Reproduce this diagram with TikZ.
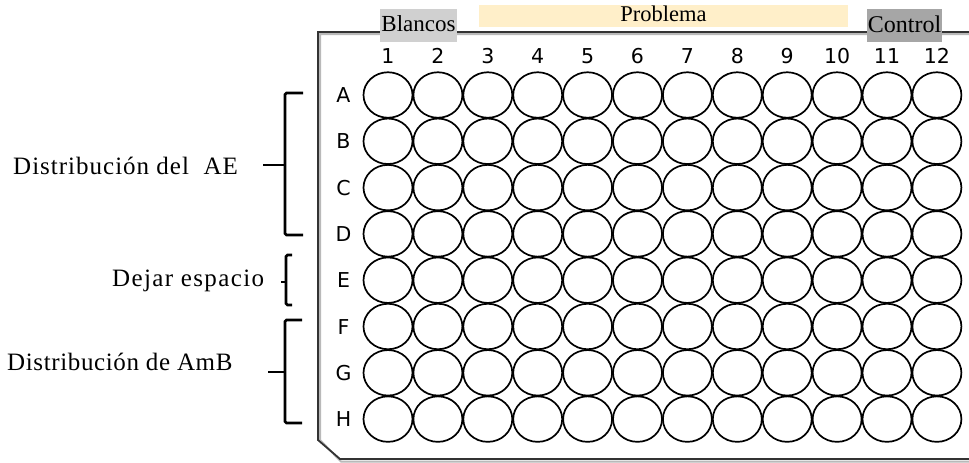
\documentclass[tikz,border=0pt]{standalone}
\usepackage{fontspec}
\setmainfont{Liberation Serif}
\newfontfamily\platefont{DejaVu Sans}
\newfontfamily\sidefontA[LetterSpace=4]{Liberation Serif}
\newfontfamily\sidefontB[LetterSpace=5.5]{Liberation Serif}
\newfontfamily\sidefontC[LetterSpace=2.5]{Liberation Serif}
\usetikzlibrary{shapes.geometric}
\definecolor{blancosgray}{HTML}{D0D0D0}
\definecolor{controlgray}{HTML}{A6A6A6}
\definecolor{problemaorange}{HTML}{FFEFC9}
\begin{document}
\begin{tikzpicture}[x=1pt,y=-1pt,
  well/.style={draw=black, line width=1.7pt, ellipse, minimum width=49pt, minimum height=45.5pt, inner sep=0pt},
  lab/.style={font=\platefont\fontsize{20.5}{20.5}\selectfont, inner sep=0pt, anchor=base},
  hdr/.style={inner xsep=0pt, inner ysep=0pt, anchor=base},
  side/.style={inner sep=0pt, anchor=base west},
  bracket/.style={line width=2.8pt, line cap=butt, rounded corners=1.5pt},
  outline/.style={line width=1.8pt, draw=black!80},
  outshadow/.style={line width=2pt, draw=gray!55}]
\useasboundingbox (0,0) rectangle (969,463);
% plate outline
\draw[outshadow] (975,34) -- (320,34) -- (320,440) -- (341,461.5) -- (975,461.5);
\draw[outline] (975,32) -- (318,32) -- (318,440) -- (340,459) -- (975,459);
% header boxes
\node[hdr, font=\fontsize{23}{23}\selectfont, fill=blancosgray, minimum width=77pt, text height=22.7pt, text depth=10.3pt] (blancos) at (418.5,31.7) {Blancos};
\node[hdr, font=\fontsize{22.5}{22.5}\selectfont, fill=problemaorange, minimum width=369pt, text height=16.7pt, text depth=5.3pt] (problema) at (663.5,21.7) {Problema};
\node[hdr, font=\fontsize{24}{24}\selectfont, fill=controlgray, minimum width=75pt, text height=23.3pt, text depth=9.7pt] (control) at (904.5,32.3) {Control};
% column labels
\foreach \c in {1,...,12} {
  \node[lab] (col-\c) at ({388+(\c-1)*49.9},63) {\c};
}
% rows and wells
\foreach \r [count=\i] in {A,B,C,D,E,F,G,H} {
  \node[lab] (row-\r) at (343.5,{102.5+(\i-1)*46.3}) {\r};
  \foreach \c in {1,...,12} {
    \node[well] (w-\r-\c) at ({388+(\c-1)*49.9},{95+(\i-1)*46.3}) {};
  }
}
% brackets
\draw[bracket] (303,93) -- (285,93) -- (285,235) -- (303,235);
\draw[bracket] (285,165) -- (263,165);
\draw[bracket] (292,255) -- (286,255) -- (286,305) -- (292,305);
\draw[bracket] (286,282) -- (281,282);
\draw[bracket] (302,320) -- (285,320) -- (285,423) -- (302,423);
\draw[bracket] (285,372) -- (268,372);
% side labels
\node[side, font=\sidefontA\fontsize{25}{25}\selectfont] (ae) at (13,174.3) {Distribución del\ \ AE};
\node[side, font=\sidefontB\fontsize{25}{25}\selectfont] (esp) at (112,286.7) {Dejar espacio};
\node[side, font=\sidefontC\fontsize{25}{25}\selectfont] (amb) at (7,370) {Distribución de AmB};
\end{tikzpicture}
\end{document}
